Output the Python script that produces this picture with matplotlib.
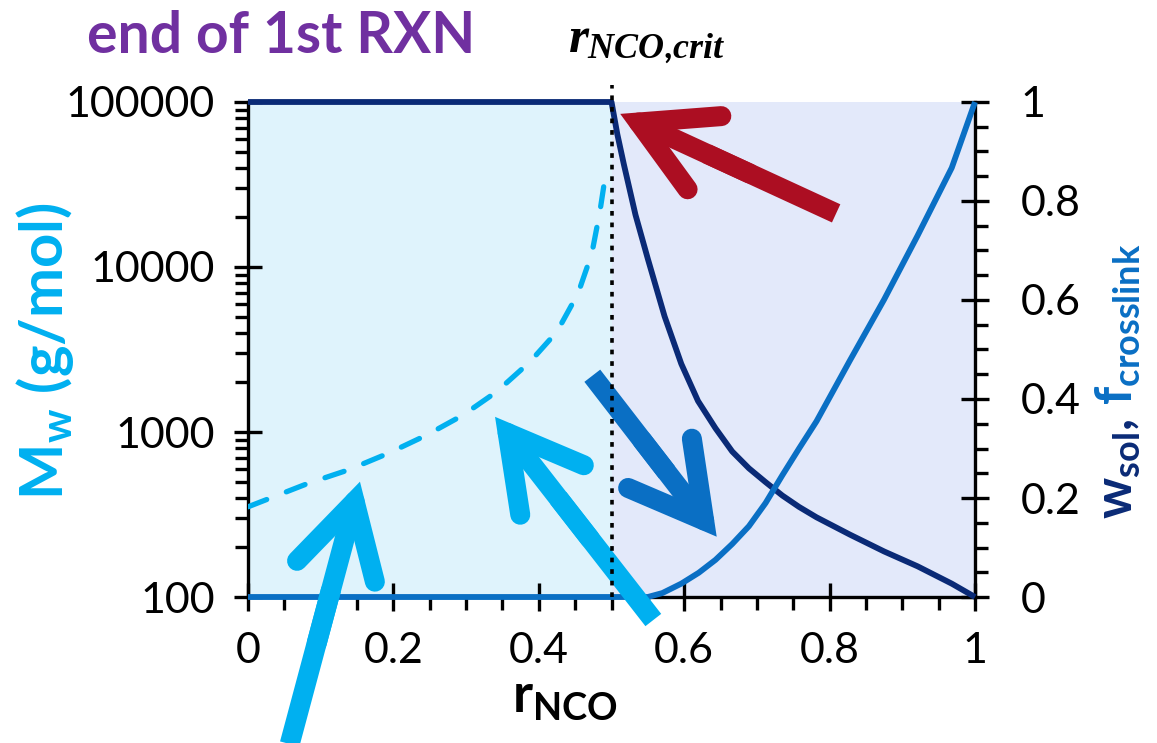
import numpy as np
import matplotlib.pyplot as plt
from matplotlib.patches import FancyArrowPatch, ArrowStyle
from matplotlib.ticker import MultipleLocator, LogLocator, NullFormatter

plt.rcParams['font.family'] = ['Lato', 'DejaVu Sans']
plt.rcParams['mathtext.fontset'] = 'custom'
plt.rcParams['mathtext.rm'] = 'Lato:bold'
plt.rcParams['mathtext.bf'] = 'Lato:bold'
plt.rcParams['mathtext.it'] = 'Liberation Serif:italic:bold'

# --- data ------------------------------------------------------------------
# Mw of the soluble polymer (left, log axis), dashed curve
r_mw = [0.0, 0.083, 0.138, 0.193, 0.246, 0.296, 0.342, 0.388, 0.425, 0.454,
        0.473, 0.484, 0.491]
mw = [352, 489, 589, 743, 959, 1268, 1754, 2666, 4055, 6918,
      12100, 21600, 34400]

# soluble weight fraction w_sol (right axis)
r_wsol = [0.0, 0.5, 0.508, 0.517, 0.533, 0.55, 0.573, 0.596, 0.619, 0.643,
          0.666, 0.689, 0.712, 0.735, 0.758, 0.782, 0.828, 0.875, 0.921,
          0.968, 1.0]
wsol = [1.0, 1.0, 0.935, 0.874, 0.772, 0.683, 0.567, 0.471, 0.396, 0.341,
        0.294, 0.260, 0.232, 0.205, 0.182, 0.161, 0.126, 0.092, 0.062,
        0.027, 0.0]

# crosslinked fraction f_crosslink (right axis)
r_fcl = [0.0, 0.55, 0.57, 0.596, 0.62, 0.643, 0.666, 0.689, 0.712, 0.735,
         0.758, 0.782, 0.828, 0.875, 0.921, 0.968, 1.0]
fcl = [0.0, 0.0, 0.008, 0.027, 0.049, 0.075, 0.107, 0.143, 0.19, 0.246,
       0.30, 0.355, 0.478, 0.601, 0.730, 0.867, 1.0]

r_crit = 0.5

x_ticks = [0, 0.2, 0.4, 0.6, 0.8, 1]
x_ticklabels = ['0', '0.2', '0.4', '0.6', '0.8', '1']
mw_ticks = [100, 1000, 10000, 100000]
mw_ticklabels = ['100', '1000', '10000', '100000']
frac_ticks = [0, 0.2, 0.4, 0.6, 0.8, 1]
frac_ticklabels = ['0', '0.2', '0.4', '0.6', '0.8', '1']

# colours
cyan = '#00B0F0'
blue = '#0A6FC4'
navy = '#0A2A76'
red = '#AC0E22'
purple = '#7030A0'
bg_left = '#DFF3FC'
bg_right = '#E3E9FA'


def fat_arrow(ax, tail, tip, color, lw=14.4, zorder=10):
    """Thick stick arrow: butt-ended shaft + open '->' head with round barbs."""
    tail = np.asarray(tail, float)
    tip = np.asarray(tip, float)
    shaft_end = tail + 0.6 * (tip - tail)
    head_start = tail + 0.4 * (tip - tail)
    ax.plot([tail[0], shaft_end[0]], [tail[1], shaft_end[1]], color=color,
            lw=lw, solid_capstyle='butt', clip_on=False, zorder=zorder)
    style = ArrowStyle('->', head_length=52, head_width=29)
    ax.add_patch(FancyArrowPatch(head_start, tip, arrowstyle=style,
                                 mutation_scale=1, lw=lw, color=color,
                                 joinstyle='miter', capstyle='round',
                                 shrinkA=0, shrinkB=0, clip_on=False,
                                 zorder=zorder))


fig = plt.figure(figsize=(11.57, 7.43), dpi=100)
ax = fig.add_axes([0.21435, 0.1965, 0.62835, 0.66622])

ax.axvspan(0, r_crit, color=bg_left, lw=0, zorder=0)
ax.axvspan(r_crit, 1, color=bg_right, lw=0, zorder=0)
ax.plot(r_mw, mw, color=cyan, lw=3.8, dashes=(3.8, 4.0),
        dash_capstyle='round', zorder=3)

ax.set_xlim(0, 1)
ax.set_yscale('log')
ax.set_ylim(100, 100000)
ax.set_xticks(x_ticks, x_ticklabels)
ax.set_yticks(mw_ticks, mw_ticklabels)
ax.xaxis.set_minor_locator(MultipleLocator(0.05))
ax.yaxis.set_minor_locator(LogLocator(base=10, subs=np.arange(2, 10)))
ax.yaxis.set_minor_formatter(NullFormatter())
ax.tick_params(which='major', direction='inout', length=20, width=2.4,
               labelsize=31)
ax.tick_params(which='minor', direction='out', length=9.5, width=2.4)
ax.tick_params(axis='x', which='major', pad=15)
ax.tick_params(axis='y', which='major', pad=14)
for side in ['top', 'right']:
    ax.spines[side].set_visible(False)
for side in ['left', 'bottom']:
    ax.spines[side].set_linewidth(2.4)

ax2 = ax.twinx()
ax2.set_ylim(0, 1)
ax2.set_yticks(frac_ticks, frac_ticklabels)
ax2.yaxis.set_minor_locator(MultipleLocator(0.05))
ax2.tick_params(which='major', direction='inout', length=20, width=2.4,
                labelsize=31, pad=23)
ax2.tick_params(which='minor', direction='out', length=9.5, width=2.4)
for side in ['top', 'left', 'bottom']:
    ax2.spines[side].set_visible(False)
ax2.spines['right'].set_linewidth(2.4)

ax2.plot(r_wsol, wsol, color=navy, lw=4.2, clip_on=False, zorder=4,
         solid_capstyle='butt', solid_joinstyle='round')
ax2.plot(r_fcl, fcl, color=blue, lw=4.2, clip_on=False, zorder=4,
         solid_capstyle='butt', solid_joinstyle='round')

# annotation arrows (x in r_NCO, y in right-axis fraction)
fat_arrow(ax2, (0.809, 0.775), (0.512, 0.976), red)
fat_arrow(ax2, (0.4736, 0.447), (0.6447, 0.1218), blue)
fat_arrow(ax2, (0.055, -0.31), (0.154, 0.233), cyan)
fat_arrow(ax2, (0.5575, -0.0465), (0.3398, 0.364), cyan)

ax2.axvline(r_crit, 0, 1.034, color='black', lw=2.6, dashes=(1.3, 1.9),
            clip_on=False, zorder=12)

# texts
fig.text(0.0752, 0.9287, 'end of 1st RXN', fontsize=41, fontweight='bold',
         color=purple, ha='left', va='baseline')
fig.text(0.559, 0.930, r'$r_{NCO\mathit{,}crit}$', fontsize=37,
         color='black', ha='center', va='baseline')
fig.text(0.488, 0.0404, r'$\mathrm{r_{NCO}}$', fontsize=39, color='black',
         ha='center', va='baseline')
fig.text(0.039, 0.528, r'$\mathrm{M_w}$ (g/mol)', fontsize=43,
         fontweight='bold', color=cyan, rotation=90, ha='center',
         va='center')

tA = fig.text(0.979, 0.3015, r'$\mathrm{w_{sol}}$,', fontsize=37,
              fontweight='bold', color=navy, rotation=90,
              rotation_mode='anchor', ha='left', va='baseline')
fig.canvas.draw()
bb = tA.get_window_extent()
fig.text(0.979, (bb.y1 + 14) / fig.bbox.height, r'$\mathrm{f_{crosslink}}$',
         fontsize=37, fontweight='bold', color=blue, rotation=90,
         rotation_mode='anchor', ha='left', va='baseline')

fig.savefig('out.png', dpi=100)
